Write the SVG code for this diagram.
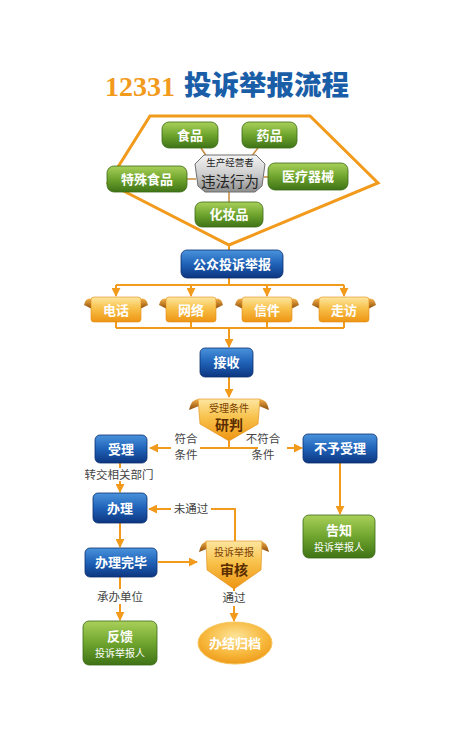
<svg xmlns="http://www.w3.org/2000/svg" width="458" height="741" viewBox="0 0 458 741">
<defs>
<linearGradient id="gBlue" x1="0" y1="0" x2="0" y2="1"><stop offset="0" stop-color="#4a93dc"/><stop offset="0.5" stop-color="#1f62b8"/><stop offset="1" stop-color="#0d3680"/></linearGradient>
<linearGradient id="gGreen" x1="0" y1="0" x2="0" y2="1"><stop offset="0" stop-color="#a9d05a"/><stop offset="0.5" stop-color="#6fa52e"/><stop offset="1" stop-color="#3f7316"/></linearGradient>
<linearGradient id="gOrange" x1="0" y1="0" x2="0" y2="1"><stop offset="0" stop-color="#fde6a0"/><stop offset="0.45" stop-color="#f8c14a"/><stop offset="1" stop-color="#ee9412"/></linearGradient>
<linearGradient id="gEar" x1="0" y1="0" x2="0" y2="1"><stop offset="0" stop-color="#f5b24a"/><stop offset="1" stop-color="#8a4a08"/></linearGradient>
<linearGradient id="gGray" x1="0" y1="0" x2="0" y2="1"><stop offset="0" stop-color="#f4f4f4"/><stop offset="0.5" stop-color="#cfcfcf"/><stop offset="1" stop-color="#8e8e8e"/></linearGradient>
<radialGradient id="gOval" cx="0.5" cy="0.35" r="0.7"><stop offset="0" stop-color="#fde49a"/><stop offset="0.6" stop-color="#f7b73a"/><stop offset="1" stop-color="#ec9414"/></radialGradient>
<marker id="arr" viewBox="0 0 10 10" refX="9" refY="5" markerWidth="9" markerHeight="9" markerUnits="userSpaceOnUse" orient="auto"><path d="M0,0 L10,5 L0,10 Z" fill="#f29a1c"/></marker>
</defs>
<style>
.cn{font-family:"Noto Sans CJK SC","Noto Sans",sans-serif;}
.blue rect{fill:url(#gBlue);stroke:#0b2e6e;stroke-width:0.8;}
.green rect{fill:url(#gGreen);stroke:#3a6a14;stroke-width:0.8;}
.wt{fill:#ffffff;font-size:13px;font-weight:bold;text-anchor:middle;}
.lbl{fill:#444444;font-size:11.5px;text-anchor:middle;}
.ln{stroke:#f29a1c;stroke-width:2;fill:none;}
.thin{stroke:#c98a3a;stroke-width:1.5;fill:none;}
.body{fill:url(#gOrange);stroke:#e08c10;stroke-width:0.6;}
.ear{fill:url(#gEar);}
.dsm{font-size:10px;fill:#7a4000;text-anchor:middle;}
.dbg{font-size:14px;font-weight:bold;fill:#5a2d00;text-anchor:middle;}
</style>

<g id="title">
<text x="105" y="96" font-family="Liberation Serif,serif" font-size="28" font-weight="bold" fill="#f29a1c">12331</text>
<text x="184" y="95" class="cn" font-size="27.5" font-weight="900" fill="#1a5ea8">投诉举报流程</text>
</g>

<g id="hexagon"><path d="M150,116 L310,116 L378,183 L229,245 L108,183 Z" fill="none" stroke="#f29a1c" stroke-width="3" stroke-linejoin="miter"/></g>

<g id="connectors">
<line class="thin" x1="201" y1="148" x2="207" y2="157"/>
<line class="thin" x1="258" y1="148" x2="251" y2="157"/>
<line class="thin" x1="187" y1="179" x2="196" y2="179"/>
<line class="thin" x1="264" y1="177" x2="268" y2="177"/>
<line class="thin" x1="229" y1="192" x2="229" y2="202"/>
<line class="ln" x1="229" y1="244" x2="229" y2="250"/>
<polyline class="ln" points="229,278 229,285"/>
<line class="ln" x1="116" y1="285" x2="344" y2="285"/>
<line class="ln" x1="116" y1="285" x2="116" y2="296" marker-end="url(#arr)"/>
<line class="ln" x1="191" y1="285" x2="191" y2="296" marker-end="url(#arr)"/>
<line class="ln" x1="267" y1="285" x2="267" y2="296" marker-end="url(#arr)"/>
<line class="ln" x1="344" y1="285" x2="344" y2="296" marker-end="url(#arr)"/>
<line class="ln" x1="116" y1="328" x2="344" y2="328"/>
<line class="ln" x1="116" y1="322" x2="116" y2="328"/>
<line class="ln" x1="191" y1="322" x2="191" y2="328"/>
<line class="ln" x1="267" y1="322" x2="267" y2="328"/>
<line class="ln" x1="344" y1="322" x2="344" y2="328"/>
<line class="ln" x1="229" y1="328" x2="229" y2="347" marker-end="url(#arr)"/>
<line class="ln" x1="229" y1="377" x2="229" y2="397" marker-end="url(#arr)"/>
<line class="ln" x1="229" y1="441" x2="229" y2="448"/>
<line class="ln" x1="200" y1="448" x2="258" y2="448"/>
<line class="ln" x1="171" y1="448" x2="150" y2="448" marker-end="url(#arr)"/>
<line class="ln" x1="287" y1="448" x2="302" y2="448" marker-end="url(#arr)"/>
<line class="ln" x1="120" y1="463" x2="120" y2="468"/>
<line class="ln" x1="120" y1="481" x2="120" y2="492" marker-end="url(#arr)"/>
<line class="ln" x1="120" y1="523" x2="120" y2="547" marker-end="url(#arr)"/>
<line class="ln" x1="158" y1="562" x2="197" y2="562" marker-end="url(#arr)"/>
<polyline class="ln" points="235,541 235,509 211,509"/>
<line class="ln" x1="171" y1="509" x2="149" y2="509" marker-end="url(#arr)"/>
<line class="ln" x1="234" y1="588" x2="234" y2="591"/>
<line class="ln" x1="234" y1="606" x2="234" y2="621" marker-end="url(#arr)"/>
<line class="ln" x1="120" y1="577" x2="120" y2="589"/>
<line class="ln" x1="120" y1="604" x2="120" y2="620" marker-end="url(#arr)"/>
<line class="ln" x1="340" y1="463" x2="340" y2="514" marker-end="url(#arr)"/>
</g>

<g id="n-food" class="green cn"><rect x="162" y="122" width="56" height="26" rx="7"/><text class="wt" x="190" y="140">食品</text></g>
<g id="n-drug" class="green cn"><rect x="242" y="122" width="55" height="26" rx="7"/><text class="wt" x="269.5" y="140">药品</text></g>
<g id="n-special" class="green cn"><rect x="107" y="166" width="80" height="26" rx="7"/><text class="wt" x="147" y="184">特殊食品</text></g>
<g id="n-device" class="green cn"><rect x="268" y="163" width="80" height="27" rx="7"/><text class="wt" x="308" y="181">医疗器械</text></g>
<g id="n-cosmetic" class="green cn"><rect x="195" y="202" width="68" height="25" rx="7"/><text class="wt" x="229" y="219">化妆品</text></g>
<g id="n-center" class="cn">
<path d="M204,155 L256,155 L265,164 L262,186 L255,192 L205,192 L198,186 L195,164 Z" fill="url(#gGray)" stroke="#6f6f6f" stroke-width="1"/>
<text x="230" y="166" font-size="9.5" fill="#222" text-anchor="middle">生产经营者</text>
<text x="230" y="187" font-size="14.5" fill="#222" text-anchor="middle">违法行为</text>
</g>

<g id="n-public" class="blue cn"><rect x="181" y="250" width="102" height="28" rx="6"/><text class="wt" x="232" y="269" font-size="14" font-weight="normal">公众投诉举报</text></g>

<g id="n-phone" class="cn"><path class="ear" d="M92,299 Q86,297 84,305 L92,309 Z"/><path class="ear" d="M140,299 Q146,297 148,305 L140,309 Z"/><rect class="body" x="91" y="297" width="50" height="25" rx="3"/><text class="wt" x="116" y="315" font-weight="normal" font-size="14">电话</text></g>
<g id="n-net" class="cn"><path class="ear" d="M167,299 Q161,297 159,305 L167,309 Z"/><path class="ear" d="M215,299 Q221,297 223,305 L215,309 Z"/><rect class="body" x="166" y="297" width="50" height="25" rx="3"/><text class="wt" x="191" y="315" font-weight="normal" font-size="14">网络</text></g>
<g id="n-letter" class="cn"><path class="ear" d="M243,299 Q237,297 235,305 L243,309 Z"/><path class="ear" d="M291,299 Q297,297 299,305 L291,309 Z"/><rect class="body" x="242" y="297" width="50" height="25" rx="3"/><text class="wt" x="267" y="315" font-weight="normal" font-size="14">信件</text></g>
<g id="n-visit" class="cn"><path class="ear" d="M320,299 Q314,297 312,305 L320,309 Z"/><path class="ear" d="M368,299 Q374,297 376,305 L368,309 Z"/><rect class="body" x="319" y="297" width="50" height="25" rx="3"/><text class="wt" x="344" y="315" font-weight="normal" font-size="14">走访</text></g>

<g id="n-receive" class="blue cn"><rect x="200" y="348" width="53" height="29" rx="5"/><text class="wt" x="226.5" y="367" font-weight="normal">接收</text></g>

<g id="n-judge" class="cn">
<path class="ear" d="M199,399 Q191,399 189,410 L199,406 Z"/><path class="ear" d="M259,399 Q267,399 269,410 L259,406 Z"/>
<path class="body" d="M198,399 L260,399 L258,424 L229,441 L200,424 Z"/>
<text class="dsm" x="229" y="412">受理条件</text>
<text class="dbg" x="229" y="430">研判</text>
</g>

<g id="labels" class="cn">
<text class="lbl" x="186" y="443">符合</text><text class="lbl" x="186" y="459">条件</text>
<text class="lbl" x="263" y="443">不符合</text><text class="lbl" x="263" y="459">条件</text>
<text class="lbl" x="119" y="479">转交相关部门</text>
<text class="lbl" x="191" y="513">未通过</text>
<text class="lbl" x="234" y="602">通过</text>
<text class="lbl" x="120" y="601">承办单位</text>
</g>

<g id="n-accept" class="blue cn"><rect x="95" y="435" width="52" height="28" rx="5"/><text class="wt" x="121" y="454">受理</text></g>
<g id="n-reject" class="blue cn"><rect x="303" y="434" width="74" height="29" rx="5"/><text class="wt" x="340" y="453" font-weight="normal">不予受理</text></g>
<g id="n-handle" class="blue cn"><rect x="93" y="493" width="54" height="30" rx="5"/><text class="wt" x="120" y="513">办理</text></g>
<g id="n-done" class="blue cn"><rect x="85" y="548" width="72" height="29" rx="5"/><text class="wt" x="121" y="567">办理完毕</text></g>

<g id="n-review" class="cn">
<path class="ear" d="M209,541 Q201,541 199,552 L209,548 Z"/><path class="ear" d="M259,541 Q267,541 269,552 L259,548 Z"/>
<path class="body" d="M206,541 L262,541 L261,570 L234,589 L207,570 Z"/>
<text class="dsm" x="234" y="556">投诉举报</text>
<text class="dbg" x="234" y="575">审核</text>
</g>

<g id="n-notify" class="green cn"><rect x="303" y="515" width="72" height="43" rx="6"/><text class="wt" x="339" y="535" font-size="14">告知</text><text x="339" y="551" font-size="10" fill="#fff" text-anchor="middle">投诉举报人</text></g>
<g id="n-feedback" class="green cn"><rect x="83" y="621" width="74" height="44" rx="6"/><text class="wt" x="120" y="641" font-size="14">反馈</text><text x="120" y="657" font-size="10" fill="#fff" text-anchor="middle">投诉举报人</text></g>
<g id="n-archive" class="cn"><ellipse cx="235" cy="643" rx="37" ry="21" fill="url(#gOval)" stroke="#f6c45a" stroke-width="1"/><text class="wt" x="235" y="648" font-size="14">办结归档</text></g>
</svg>
